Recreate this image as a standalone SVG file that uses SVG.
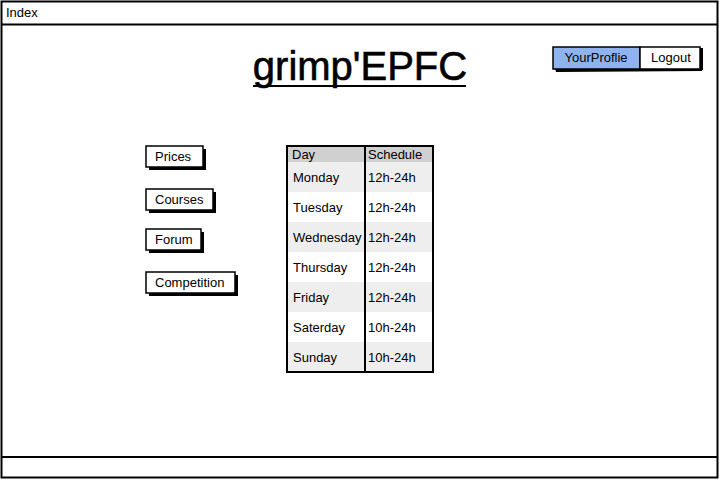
<svg xmlns="http://www.w3.org/2000/svg" width="720" height="480" viewBox="0 0 720 480">
<style>
text{font-family:"Liberation Sans",Arial,sans-serif;font-size:13px;fill:#000}
.frame{fill:#fff;stroke:#000;stroke-width:2}
.btn{fill:#fff;stroke:#000;stroke-width:1.5}
.sh{fill:#000}
</style>
<rect width="720" height="480" fill="#fff"/>
<g id="window">
<rect class="frame" x="1.5" y="1.5" width="716" height="476"/>
<line x1="1.5" y1="24.5" x2="717.5" y2="24.5" stroke="#000" stroke-width="2"/>
<line x1="1.5" y1="457" x2="717.5" y2="457" stroke="#000" stroke-width="2"/>
<text x="6" y="17">Index</text>
</g>
<g id="title">
<text x="360" y="80" text-anchor="middle" style="font-size:40px;stroke:#000;stroke-width:0.6">grimp'EPFC</text>
<line x1="253" y1="86" x2="466" y2="86" stroke="#000" stroke-width="2"/>
</g>
<g id="topbar">
<path class="sh" d="M555 68 L703 66 L702 71 L556 72 Z"/>
<rect x="700" y="48" width="3" height="22" class="sh"/>
<rect x="553" y="47" width="87" height="22" fill="#8fb3ef" stroke="#000" stroke-width="1.5"/>
<rect x="640" y="47" width="60" height="22" fill="#fff" stroke="#000" stroke-width="1.5"/>
<text x="596" y="62" text-anchor="middle">YourProflie</text>
<text x="671" y="62" text-anchor="middle">Logout</text>
</g>
<g id="prices">
<rect x="149" y="149" width="57" height="21" class="sh"/>
<rect x="146" y="146" width="57" height="21" class="btn"/>
<text x="155" y="161">Prices</text>
</g>
<g id="courses">
<rect x="149" y="192" width="67" height="21" class="sh"/>
<rect x="146" y="189" width="67" height="21" class="btn"/>
<text x="155" y="204">Courses</text>
</g>
<g id="forum">
<rect x="149" y="232" width="55" height="21" class="sh"/>
<rect x="146" y="229" width="55" height="21" class="btn"/>
<text x="155" y="244">Forum</text>
</g>
<g id="competition">
<rect x="149" y="275" width="89" height="21" class="sh"/>
<rect x="146" y="272" width="89" height="21" class="btn"/>
<text x="155" y="287">Competition</text>
</g>
<g id="schedule">
<rect x="287" y="146" width="146" height="16" fill="#d0d0d0"/>
<rect x="287" y="162" width="146" height="30" fill="#eeeeee"/>
<rect x="287" y="222" width="146" height="30" fill="#eeeeee"/>
<rect x="287" y="282" width="146" height="30" fill="#eeeeee"/>
<rect x="287" y="342" width="146" height="30" fill="#eeeeee"/>
<rect x="287" y="146" width="146" height="226" fill="none" stroke="#000" stroke-width="2"/>
<line x1="365" y1="146" x2="365" y2="372" stroke="#000" stroke-width="2"/>
<text x="292" y="159">Day</text>
<text x="368" y="159">Schedule</text>
<text x="293" y="182">Monday</text><text x="368" y="182">12h-24h</text>
<text x="293" y="212">Tuesday</text><text x="368" y="212">12h-24h</text>
<text x="293" y="242">Wednesday</text><text x="368" y="242">12h-24h</text>
<text x="293" y="272">Thursday</text><text x="368" y="272">12h-24h</text>
<text x="293" y="302">Friday</text><text x="368" y="302">12h-24h</text>
<text x="293" y="332">Saterday</text><text x="368" y="332">10h-24h</text>
<text x="293" y="362">Sunday</text><text x="368" y="362">10h-24h</text>
</g>
<g id="connectors"></g>
</svg>
